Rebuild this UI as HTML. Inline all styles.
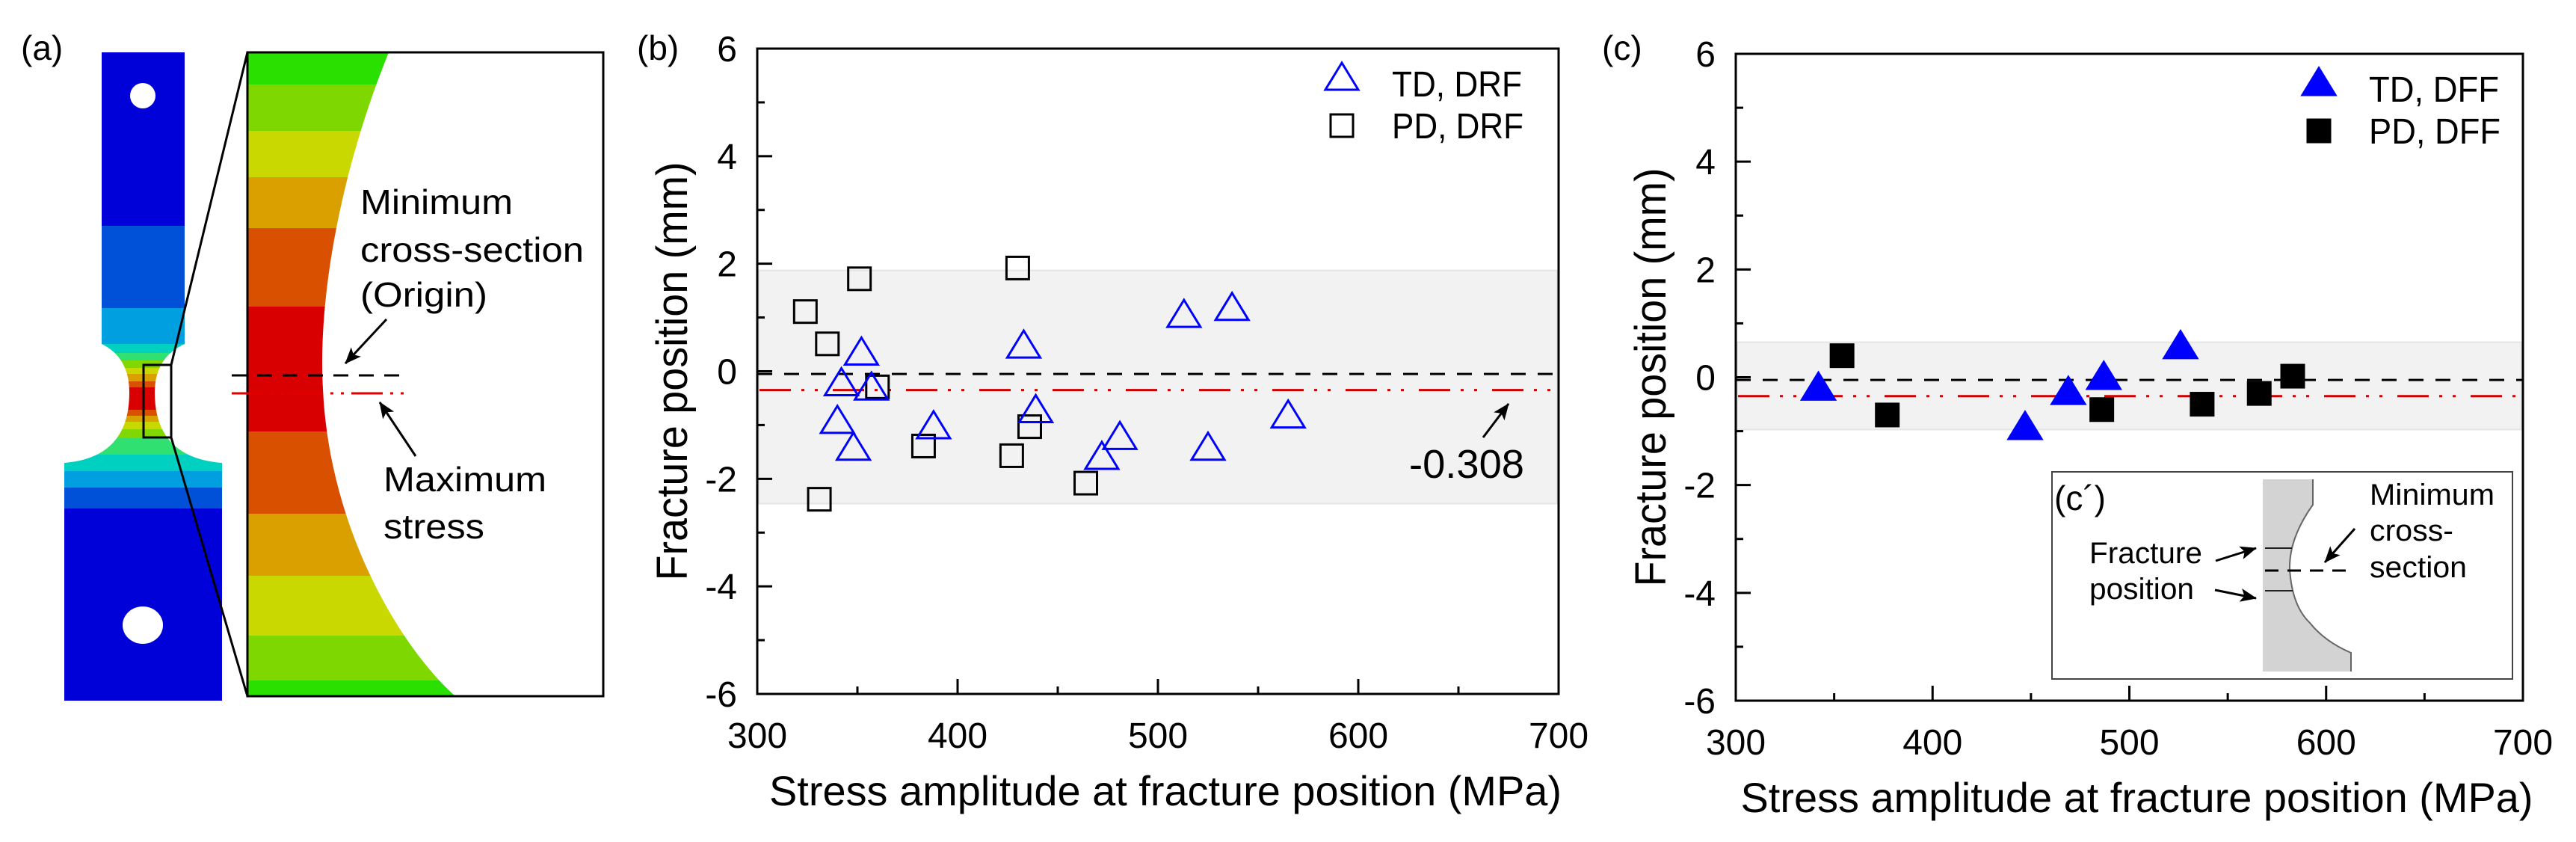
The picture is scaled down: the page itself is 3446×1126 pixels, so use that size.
<!DOCTYPE html>
<html><head><meta charset="utf-8"><style>
html,body{margin:0;padding:0;background:#fff}
svg{display:block;font-family:"Liberation Sans",Arial,sans-serif}
</style></head><body>
<svg id="fig" width="3446" height="1126" viewBox="0 0 3446 1126" xmlns="http://www.w3.org/2000/svg">
<defs>
<clipPath id="specClip"><path d="M136,70 H247 V460 Q207,478 207,525 Q207,612 297,619 V937 H86 V619 Q173,612 173,525 Q173,478 136,460 Z"/></clipPath>
<clipPath id="insetClip"><rect x="331" y="70" width="476" height="861"/></clipPath>
<marker id="arr" markerWidth="8" markerHeight="8" refX="7" refY="4" orient="auto" markerUnits="userSpaceOnUse" viewBox="0 0 8 8"><path d="M0,0 L8,4 L0,8 Z" fill="#000"/></marker>
<marker id="arrB" markerWidth="22" markerHeight="18" refX="21" refY="9" orient="auto" markerUnits="userSpaceOnUse"><path d="M0,0 L22,9 L0,18 L5,9 Z" fill="#000"/></marker>
</defs>

<!-- Panel (a) -->
<g>
<text x="28" y="80" font-size="46">(a)</text>
<g clip-path="url(#specClip)">
<rect x="80" y="70" width="230" height="232" fill="#0000d8"/>
<rect x="80" y="302" width="230" height="110" fill="#0050d8"/>
<rect x="80" y="412" width="230" height="48" fill="#00a0e0"/>
<rect x="80" y="460" width="230" height="12" fill="#00d0c0"/>
<rect x="80" y="472" width="230" height="10" fill="#30e070"/>
<rect x="80" y="482" width="230" height="10" fill="#80d800"/>
<rect x="80" y="492" width="230" height="8" fill="#c8d800"/>
<rect x="80" y="500" width="230" height="10" fill="#daa000"/>
<rect x="80" y="510" width="230" height="8" fill="#d85000"/>
<rect x="80" y="518" width="230" height="30" fill="#d80000"/>
<rect x="80" y="548" width="230" height="8" fill="#d85000"/>
<rect x="80" y="556" width="230" height="8" fill="#daa000"/>
<rect x="80" y="564" width="230" height="10" fill="#c8d800"/>
<rect x="80" y="574" width="230" height="12" fill="#80d800"/>
<rect x="80" y="586" width="230" height="22" fill="#30e070"/>
<rect x="80" y="608" width="230" height="22" fill="#00d0c0"/>
<rect x="80" y="630" width="230" height="22" fill="#00a0e0"/>
<rect x="80" y="652" width="230" height="28" fill="#0050d8"/>
<rect x="80" y="680" width="230" height="260" fill="#0000d8"/>
</g>
<circle cx="191" cy="128" r="17" fill="#fff"/>
<ellipse cx="191" cy="836" rx="27" ry="25" fill="#fff"/>
<rect x="192" y="488" width="37" height="97" fill="none" stroke="#000" stroke-width="3"/>
<line x1="229" y1="488" x2="331" y2="70" stroke="#000" stroke-width="3"/>
<line x1="229" y1="585" x2="331" y2="931" stroke="#000" stroke-width="3"/>
<g clip-path="url(#insetClip)">
<rect x="331" y="70" width="476" height="43" fill="#2ae000"/>
<rect x="331" y="113" width="476" height="62" fill="#7ed800"/>
<rect x="331" y="175" width="476" height="62" fill="#c8d800"/>
<rect x="331" y="237" width="476" height="68" fill="#daa000"/>
<rect x="331" y="305" width="476" height="105" fill="#d85000"/>
<rect x="331" y="410" width="476" height="167" fill="#d80000"/>
<rect x="331" y="577" width="476" height="110" fill="#d85000"/>
<rect x="331" y="687" width="476" height="83" fill="#daa000"/>
<rect x="331" y="770" width="476" height="80" fill="#c8d800"/>
<rect x="331" y="850" width="476" height="60" fill="#7ed800"/>
<rect x="331" y="910" width="476" height="21" fill="#2ae000"/>
<path d="M520,70 C455,230 425,400 432,520 C440,700 530,860 609,931 L807,931 L807,70 Z" fill="#fff"/>
</g>
<rect x="331" y="70" width="476" height="861" fill="none" stroke="#000" stroke-width="3"/>
<line x1="310" y1="502" x2="547" y2="502" stroke="#000" stroke-width="3" stroke-dasharray="20 14"/>
<line x1="310" y1="526" x2="547" y2="526" stroke="#e00000" stroke-width="3" stroke-dasharray="42 10 4 10 4 10"/>
<text x="482" y="286" font-size="46" textLength="204" lengthAdjust="spacingAndGlyphs">Minimum</text>
<text x="482" y="350" font-size="46" textLength="299" lengthAdjust="spacingAndGlyphs">cross-section</text>
<text x="482" y="410" font-size="46" textLength="170" lengthAdjust="spacingAndGlyphs">(Origin)</text>
<line x1="517" y1="427" x2="462" y2="486" stroke="#000" stroke-width="3" marker-end="url(#arrB)"/>
<text x="513" y="657" font-size="46" textLength="218" lengthAdjust="spacingAndGlyphs">Maximum</text>
<text x="513" y="720" font-size="46" textLength="135" lengthAdjust="spacingAndGlyphs">stress</text>
<line x1="556" y1="610" x2="508" y2="538" stroke="#000" stroke-width="3" marker-end="url(#arrB)"/>
</g>

<g id="panelB"></g>
<g id="panelC"></g>
</svg>

<script>
// ---- Panel (b) data: DRF ----
const tdDrfX = [352, 342, 340, 348, 357, 388, 433, 439, 472, 481, 513, 537, 525, 565];
const tdDrfY = [0.32, -0.25, -0.95, -1.45, -0.33, -1.05, 0.45, -0.75, -1.62, -1.25, 1.02, 1.15, -1.45, -0.85];
const pdDrfX = [324, 335, 351, 331, 360, 383, 430, 427, 436, 464];
const pdDrfY = [1.11, 0.51, 1.72, -2.38, -0.29, -1.39, 1.92, -1.57, -1.03, -2.08];
// ---- Panel (c) data: DFF ----
const tdDffX = [342, 447, 469, 487, 526];
const tdDffY = [-0.22, -0.95, -0.3, -0.02, 0.55];
const pdDffX = [354, 377, 486, 537, 566, 583];
const pdDffY = [0.4, -0.7, -0.6, -0.5, -0.3, 0.02];
const xTicks = [300, 400, 500, 600, 700];
const yTicks = [-6, -4, -2, 0, 2, 4, 6];
const bandB = [1.875, -2.46];
const bandC = [0.65, -0.97];
const originVal = -0.05;
const meanB = -0.35;
const meanC = -0.35;
const meanLabel = ["-0.308"];

const NS = "http://www.w3.org/2000/svg";
function mk(parent, tag, attrs, text) {
  const e = document.createElementNS(NS, tag);
  for (const k in attrs) e.setAttribute(k, attrs[k]);
  if (text !== undefined) e.textContent = text;
  parent.appendChild(e);
  return e;
}

function drawPanel(g, cfg) {
  const L = cfg.L, R = cfg.R, T = cfg.T, B = cfg.B;
  const sx = v => L + (v - 300) / 400 * (R - L);
  const sy = v => B - (v + 6) / 12 * (B - T);
  // band
  let band = mk(g, "rect", {x: L + 2, y: sy(cfg.band[0]), width: R - L - 4, height: sy(cfg.band[1]) - sy(cfg.band[0]), fill: "#f2f2f2", stroke: "#e4e4e4", "stroke-width": 2});
  
  
  // origin line
  let ol = mk(g, "line", {x1: L, x2: R, y1: sy(originVal), y2: sy(originVal), stroke: "#000", "stroke-width": 3, "stroke-dasharray": "20 16"});
  
  
  let ml = mk(g, "line", {x1: L + 3, x2: R, y1: sy(cfg.mean), y2: sy(cfg.mean), stroke: "#d00000", "stroke-width": 3, "stroke-dasharray": "42 14 4 14 4 20"});
  
  
  // frame
  let fr = mk(g, "rect", {x: L, y: T, width: R - L, height: B - T, fill: "none", stroke: "#000", "stroke-width": 3});
  
  
  // y ticks
  for (let v = -6; v <= 6; v++) {
    const major = v % 2 === 0;
    let t = mk(g, "line", {x1: L, x2: L + (major ? 20 : 10), y1: sy(v), y2: sy(v), stroke: "#000", "stroke-width": 3});
    
    
  }
  yTicks.forEach(v => {
    let tl = mk(g, "text", {x: L - 27, y: sy(v) + 17, "font-size": 48, "text-anchor": "end"}, String(v));
    
    
  });
  for (let v = 300; v <= 700; v += 50) {
    if (v === 300 || v === 700) continue;
    const major = v % 100 === 0;
    let t = mk(g, "line", {x1: sx(v), x2: sx(v), y1: B, y2: B - (major ? 20 : 10), stroke: "#000", "stroke-width": 3});
    
    
  }
  xTicks.forEach(v => {
    let tl = mk(g, "text", {x: sx(v), y: B + 72, "font-size": 48, "text-anchor": "middle"}, String(v));
    
    
  });
  let xt = mk(g, "text", {x: (L + R) / 2 + 10, y: B + 149, "font-size": 56, "text-anchor": "middle", textLength: 1060, lengthAdjust: "spacingAndGlyphs"}, "Stress amplitude at fracture position (MPa)");
  
  
  const yc = (T + B) / 2;
  let yt = mk(g, "text", {x: 0, y: 0, "font-size": 58, "text-anchor": "middle", textLength: 560, lengthAdjust: "spacingAndGlyphs", transform: `translate(${L - 94},${yc}) rotate(-90)`}, "Fracture position (mm)");
  
  
  let pl = mk(g, "text", {x: cfg.labelX, y: 80, "font-size": 46}, cfg.label);
  
  

  const tri = (cx, cy) => `${cx - 22},${cy + 14} ${cx + 22},${cy + 14} ${cx},${cy - 22}`;
  // markers
  cfg.sq[0].forEach((x, i) => {
    const cx = sx(x), cy = sy(cfg.sq[1][i]);
    let m = mk(g, "rect", {x: cx - 15, y: cy - 15, width: 30, height: 30, fill: cfg.filled ? "#000" : "none", stroke: "#000", "stroke-width": 3});
    
    
  });
  cfg.tr[0].forEach((x, i) => {
    const cx = sx(x), cy = sy(cfg.tr[1][i]);
    let m = mk(g, "polygon", {points: tri(cx, cy), fill: cfg.filled ? "#0000ff" : "none", stroke: "#0000ff", "stroke-width": 3});
    
    
  });
  // legend
  const lx = cfg.legX, ly = cfg.legY;
  let l1 = mk(g, "polygon", {points: tri(lx, ly), fill: cfg.filled ? "#0000ff" : "none", stroke: "#0000ff", "stroke-width": 3});
  
  
  let l2 = mk(g, "rect", {x: lx - 15, y: ly + 47, width: 30, height: 30, fill: cfg.filled ? "#000" : "none", stroke: "#000", "stroke-width": 3});
  
  
  let l3 = mk(g, "text", {x: lx + 67, y: ly + 23, "font-size": 48, textLength: 174, lengthAdjust: "spacingAndGlyphs"}, cfg.legTD);
  
  
  let l4 = mk(g, "text", {x: lx + 67, y: ly + 79, "font-size": 48, textLength: 176, lengthAdjust: "spacingAndGlyphs"}, cfg.legPD);
  
  
  return {sx, sy};
}

const gb = document.getElementById("panelB");
const b = drawPanel(gb, {L: 1013, R: 2085, T: 65, B: 928, band: bandB, mean: meanB,
  sq: [pdDrfX, pdDrfY], tr: [tdDrfX, tdDrfY], filled: false, label: "(b)", labelX: 852,
  legX: 1795, legY: 106, legTD: "TD, DRF", legPD: "PD, DRF"});
let ann = mk(gb, "text", {x: 1885, y: 639, "font-size": 54, textLength: 154, lengthAdjust: "spacingAndGlyphs"}, meanLabel[0]);


let annA = mk(gb, "line", {x1: 1984, y1: 585, x2: 2018, y2: 540, stroke: "#000", "stroke-width": 3, "marker-end": "url(#arrB)"});



const gc = document.getElementById("panelC");
drawPanel(gc, {L: 2322, R: 3375, T: 72, B: 937, band: bandC, mean: meanC,
  sq: [pdDffX, pdDffY], tr: [tdDffX, tdDffY], filled: true, label: "(c)", labelX: 2143,
  legX: 3102, legY: 113, legTD: "TD, DFF", legPD: "PD, DFF"});

// inset (c')
const ins = mk(gc, "g", {});


mk(ins, "rect", {x: 2745, y: 631, width: 616, height: 277, fill: "#fff", stroke: "#444", "stroke-width": 2});
mk(ins, "path", {d: "M3027,641 H3094 V675 Q3062,720 3063,761 Q3066,810 3090,833 Q3110,858 3145,873 V898 H3027 Z", fill: "#d3d3d3", stroke: "none"});
mk(ins, "path", {d: "M3094,641 V675 Q3062,720 3063,761 Q3066,810 3090,833 Q3110,858 3145,873 V898", fill: "none", stroke: "#666", "stroke-width": 2});
mk(ins, "line", {x1: 3030, x2: 3066, y1: 733, y2: 733, stroke: "#222", "stroke-width": 2});
mk(ins, "line", {x1: 3030, x2: 3067, y1: 790, y2: 790, stroke: "#222", "stroke-width": 2});
mk(ins, "line", {x1: 3030, x2: 3142, y1: 763, y2: 763, stroke: "#000", "stroke-width": 3, "stroke-dasharray": "18 12"});
let ct = mk(ins, "text", {x: 2748, y: 682, "font-size": 46}, "(c\u00b4)");


mk(ins, "text", {x: 2795, y: 753, "font-size": 40, textLength: 151, lengthAdjust: "spacingAndGlyphs"}, "Fracture");
mk(ins, "text", {x: 2795, y: 801, "font-size": 40, textLength: 140, lengthAdjust: "spacingAndGlyphs"}, "position");
mk(ins, "text", {x: 3170, y: 675, "font-size": 40, textLength: 167, lengthAdjust: "spacingAndGlyphs"}, "Minimum");
mk(ins, "text", {x: 3170, y: 723, "font-size": 40, textLength: 112, lengthAdjust: "spacingAndGlyphs"}, "cross-");
mk(ins, "text", {x: 3170, y: 772, "font-size": 40, textLength: 130, lengthAdjust: "spacingAndGlyphs"}, "section");
mk(ins, "line", {x1: 2964, y1: 750, x2: 3018, y2: 733, stroke: "#000", "stroke-width": 3, "marker-end": "url(#arrB)"});
mk(ins, "line", {x1: 2963, y1: 789, x2: 3018, y2: 800, stroke: "#000", "stroke-width": 3, "marker-end": "url(#arrB)"});
mk(ins, "line", {x1: 3150, y1: 707, x2: 3110, y2: 752, stroke: "#000", "stroke-width": 3, "marker-end": "url(#arrB)"});
</script>
</body></html>
